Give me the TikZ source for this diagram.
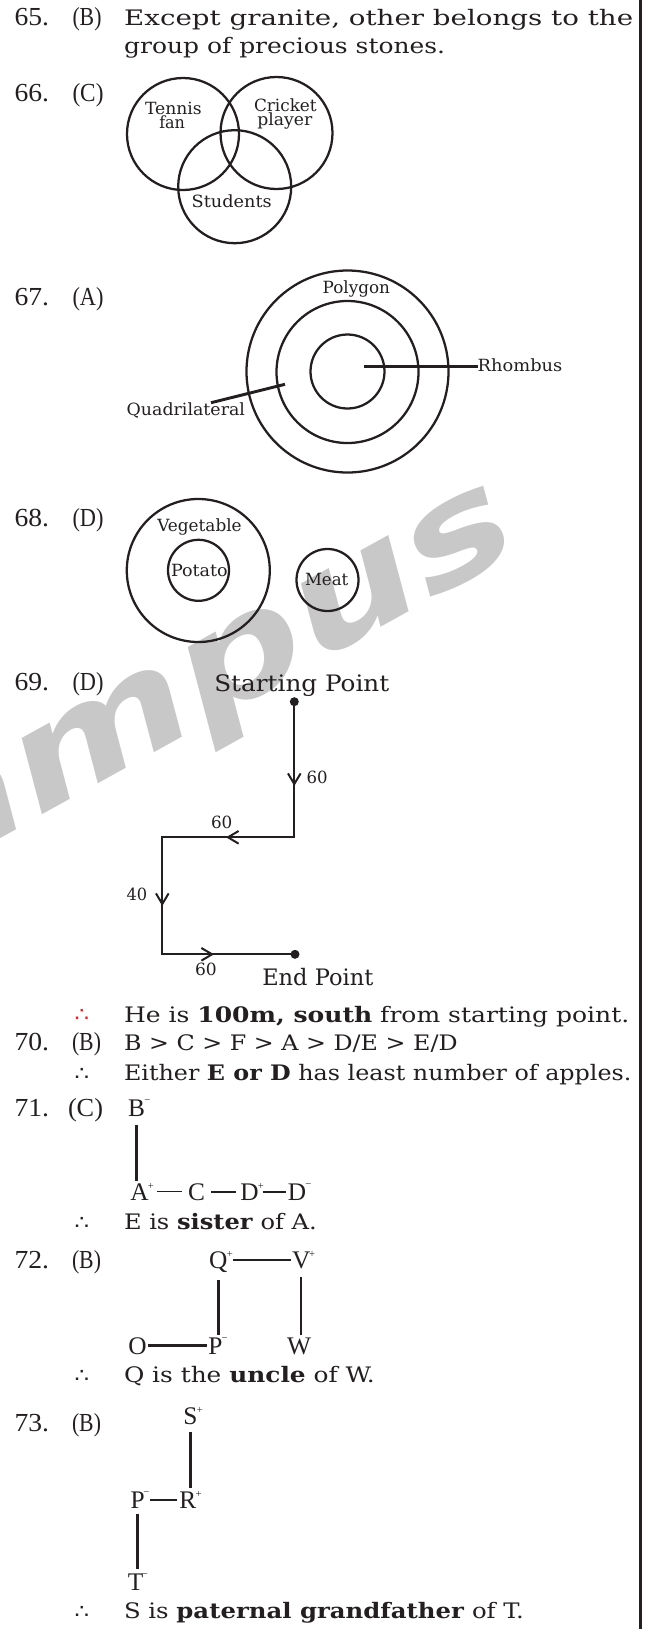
\documentclass[tikz,border=0pt]{standalone}
\usepackage{fontspec}
\usepackage{graphicx}
\setmainfont{DejaVu Serif}
\newfontfamily\numfont{Liberation Serif}
\newfontfamily\symfont{DejaVu Sans}
\usetikzlibrary{arrows.meta}
\definecolor{ink}{RGB}{35,31,32}
\definecolor{wmgray}{RGB}{200,200,200}
\definecolor{thred}{RGB}{237,28,36}
\newlength\pxu
\setlength\pxu{0.75pt}
\newcommand\fitw[2]{\resizebox{#1\pxu}{\height}{#2}}
\newcommand\mainsz{\fontsize{16}{19}\selectfont}
\newcommand\numsz{\numfont\fontsize{19.5}{22}\selectfont}
\newcommand\lblsz{\fontsize{12.6}{15}\selectfont}
\newcommand\bigsz{\fontsize{17}{20}\selectfont}
\newcommand\famsz{\numfont\fontsize{19}{22}\selectfont}
\newcommand\supsz{\numfont\fontsize{8}{8}\selectfont}
\newcommand\thsz{\symfont\fontsize{15}{18}\selectfont}
\tikzset{
  txt/.style={inner sep=0pt, outer sep=0pt, anchor=base west, text=ink},
  ring/.style={circle, draw=ink, line width=1.7pt, inner sep=0pt},
  ln/.style={draw=ink, line width=2.2pt},
  midln/.style={draw=ink, line width=1.9pt},
  thinln/.style={draw=ink, line width=1.2pt},
  pathln/.style={draw=ink, line width=1.5pt},
  barb/.style={pathln, -{Straight Barb[length=8pt, width=9.5pt]}},
  dotn/.style={circle, fill=ink, inner sep=0pt, minimum size=6.75pt},
  letter/.style={inner sep=0pt, outer sep=0pt, anchor=base, text=ink, font=\famsz},
  supn/.style={inner sep=0pt, outer sep=0pt, anchor=north west, text=ink, font=\supsz},
  wm/.style={inner sep=0pt, text=wmgray, rotate=29, xscale=1.3, transform shape,
    font=\symfont\bfseries\itshape\fontsize{105}{105}\selectfont},
}
\begin{document}
\begin{tikzpicture}[x=0.75pt, y=-0.75pt]
\useasboundingbox (0,0) rectangle (645,1629);
% watermark
\node[wm] (wmark) at (216,691) {ampus};
% right frame
\draw[line width=2.2pt, ink] (640.5,0) -- (640.5,1629);

% ---------- 65
\node[txt] (n65) at (14.5,25) {\numsz\fitw{34.5}{65.}};
\node[txt] (k65) at (72.5,25) {\numsz\fitw{29}{(B)}};
\node[txt] (t65a) at (124.2,25) {\mainsz\fitw{509}{Except granite, other belongs to the}};
\node[txt] (t65b) at (124.2,53.3) {\mainsz\fitw{321}{group of precious stones.}};

% ---------- 66
\node[txt] (n66) at (14.5,101) {\numsz\fitw{34.5}{66.}};
\node[txt] (k66) at (72.5,101) {\numsz\fitw{31}{(C)}};
\node[ring, minimum size=84pt] (tennis) at (183,134) {};
\node[ring, minimum size=84pt] (cricket) at (276.5,133) {};
\node[ring, minimum size=84.75pt] (students) at (234.7,186.7) {};
\node[txt] (ltennis) at (145,114.3) {\lblsz\fitw{56.7}{Tennis}};
\node[txt] (lfan) at (159.3,128.3) {\lblsz\fitw{25.7}{fan}};
\node[txt] (lcricket) at (254,111) {\lblsz\fitw{62.7}{Cricket}};
\node[txt] (lplayer) at (257.3,125.7) {\lblsz\fitw{55}{player}};
\node[txt] (lstudents) at (191.7,207.3) {\lblsz\fitw{80}{Students}};

% ---------- 67
\node[txt] (n67) at (14.5,305) {\numsz\fitw{34.5}{67.}};
\node[txt] (k67) at (72.5,305) {\numsz\fitw{31}{(A)}};
\node[ring, minimum size=151.5pt] (polygon) at (347.5,371.5) {};
\node[ring, minimum size=106.5pt] (quadri) at (347.5,372) {};
\node[ring, minimum size=55.5pt] (rhomb) at (347.5,371.5) {};
\node[txt] (lpolygon) at (322.7,293.3) {\lblsz\fitw{67.3}{Polygon}};
\node[txt] (lrhombus) at (477.7,371.7) {\lblsz\fitw{84.6}{Rhombus}};
\node[txt] (lquad) at (126.7,415.7) {\lblsz\fitw{118.3}{Quadrilateral}};
\coordinate (rh0) at (364,366.3);
\draw[ln] (rh0) -- (rh0 -| lrhombus.west);
\coordinate (q0) at (285,384.3);
\coordinate (q1) at (211,402.7);
\draw[ln] (q0) -- (q1);

% ---------- 68
\node[txt] (n68) at (14.5,526.7) {\numsz\fitw{34.5}{68.}};
\node[txt] (k68) at (72.5,526.7) {\numsz\fitw{31}{(D)}};
\node[ring, minimum size=107.25pt] (veg) at (198.3,570.5) {};
\node[ring, minimum size=45.75pt] (potato) at (198.5,570.3) {};
\node[ring, minimum size=46.5pt] (meat) at (327.5,580) {};
\node[txt] (lveg) at (157.3,531) {\lblsz\fitw{84.4}{Vegetable}};
\node[txt] (lpotato) at (171,576) {\lblsz\fitw{56.7}{Potato}};
\node[txt] (lmeat) at (305,585) {\lblsz\fitw{43.3}{Meat}};

% ---------- 69
\node[txt] (n69) at (14.5,690) {\numsz\fitw{34.5}{69.}};
\node[txt] (k69) at (72.5,690) {\numsz\fitw{31}{(D)}};
\node[txt] (lstart) at (214.3,691) {\bigsz\fitw{175}{Starting Point}};
\node[dotn] (sp) at (294.3,701.7) {};
\coordinate (c1) at (294.3,837.3);
\coordinate (c2) at (162.3,837.3);
\coordinate (c3) at (162.3,954.3);
\node[dotn] (ep) at (295,954.3) {};
\draw[pathln] (sp.center) -- (c1) -- (c2) -- (c3) -- (ep.center);
\coordinate (a1s) at (294.3,772); \coordinate (a1t) at (294.3,786);
\coordinate (a2s) at (240,837.3); \coordinate (a2t) at (226,837.3);
\coordinate (a3s) at (162.3,892); \coordinate (a3t) at (162.3,906);
\coordinate (a4s) at (200,954.3); \coordinate (a4t) at (214,954.3);
\draw[barb] (a1s) -- (a1t);
\draw[barb] (a2s) -- (a2t);
\draw[barb] (a3s) -- (a3t);
\draw[barb] (a4s) -- (a4t);
\node[txt] (d1) at (306.7,783.3) {\lblsz\fitw{21}{60}};
\node[txt] (d2) at (211,828.3) {\lblsz\fitw{21.3}{60}};
\node[txt] (d3) at (126.7,900.7) {\lblsz\fitw{20.6}{40}};
\node[txt] (d4) at (195,975) {\lblsz\fitw{21.7}{60}};
\node[txt] (lend) at (262.3,985) {\bigsz\fitw{111}{End Point}};
\node[txt, text=thred] (th69) at (74.5,1021.7) {\thsz\fitw{14.5}{∴}};
\node[txt] (t69) at (124,1022.7) {\mainsz\fitw{505.4}{He is \textbf{100m, south} from starting point.}};

% ---------- 70
\node[txt] (n70) at (14.5,1050) {\numsz\fitw{34.5}{70.}};
\node[txt] (k70) at (72,1050) {\numsz\fitw{29}{(B)}};
\node[txt] (t70) at (124,1050) {\mainsz\fitw{333.6}{B > C > F > A > D/E > E/D}};
\node[txt] (th70) at (74.5,1080) {\thsz\fitw{14.5}{∴}};
\node[txt] (t70b) at (124,1080) {\mainsz\fitw{507.5}{Either \textbf{E or D} has least number of apples.}};

% ---------- 71
\node[txt] (n71) at (14.5,1116.7) {\numsz\fitw{34.5}{71.}};
\node[txt] (k71) at (68,1116.7) {\numsz\fitw{35}{(C)}};
\node[letter] (B71) at (136.5,1116.7) {B};
\node[letter] (A71) at (139.5,1200) {A};
\node[letter] (C71) at (196.5,1200) {C};
\node[letter] (D71) at (249.5,1200) {D};
\node[letter] (E71) at (297,1200) {D};
\node[supn] (sB71) at ([xshift=-0.5pt]B71.north east) {\char"2212};
\node[supn] (sA71) at ([xshift=-0.5pt]A71.north east) {+};
\node[supn] (sD71) at ([xshift=-0.5pt]D71.north east) {+};
\node[supn] (sE71) at ([xshift=-0.5pt]E71.north east) {\char"2212};
\draw[ln, shorten <=6pt, shorten >=2pt] (B71.south) -- (B71.south |- A71.north);
\draw[thinln, shorten <=6pt, shorten >=4.5pt] (A71.east) -- (A71.east -| C71.west);
\draw[thinln, shorten <=4.5pt, shorten >=3pt] (C71.east) -- (C71.east -| D71.west);
\draw[thinln, shorten <=3pt, shorten >=1.5pt] (D71.east) -- (D71.east -| E71.west);
\node[txt] (th71) at (74.5,1229.3) {\thsz\fitw{14.5}{∴}};
\node[txt] (t71) at (124,1229.3) {\mainsz\fitw{192.8}{E is \textbf{sister} of A.}};

% ---------- 72
\node[txt] (n72) at (14.5,1268.3) {\numsz\fitw{34.5}{72.}};
\node[txt] (k72) at (72,1268.3) {\numsz\fitw{29}{(B)}};
\node[letter] (Q72) at (218.3,1268.3) {Q};
\node[letter] (V72) at (301.2,1268.3) {V};
\node[letter] (O72) at (137.5,1354) {O};
\node[letter] (P72) at (215.3,1354) {P};
\node[letter] (W72) at (299.2,1354) {W};
\node[supn] (sQ72) at ([xshift=-0.5pt]Q72.north east) {+};
\node[supn] (sV72) at ([xshift=-1pt]V72.north east) {+};
\node[supn] (sP72) at ([xshift=-0.5pt]P72.north east) {\char"2212};
\draw[midln, shorten <=4pt, shorten >=1pt] (V72.west -| Q72.east) -- (V72.west);
\draw[midln, shorten <=6pt, shorten >=2pt] (Q72.south) -- (Q72.south |- P72.north);
\draw[midln, shorten <=6pt, shorten >=2pt] (V72.south) -- (V72.south |- W72.north);
\draw[midln, shorten <=1pt, shorten >=1pt] (O72.east) -- (O72.east -| P72.west);
\node[txt] (th72) at (74.5,1382.7) {\thsz\fitw{14.5}{∴}};
\node[txt] (t72) at (124,1382.7) {\mainsz\fitw{250.7}{Q is the \textbf{uncle} of W.}};

% ---------- 73
\node[txt] (n73) at (14.5,1431.7) {\numsz\fitw{34.5}{73.}};
\node[txt] (k73) at (72,1431.7) {\numsz\fitw{29}{(B)}};
\node[letter] (S73) at (190.5,1424) {S};
\node[letter] (P73) at (137.7,1508.3) {P};
\node[letter] (R73) at (187.8,1508.3) {R};
\node[letter] (T73) at (135.5,1590) {T};
\node[supn] (sS73) at ([xshift=-0.5pt]S73.north east) {+};
\node[supn] (sP73) at ([xshift=-1pt]P73.north east) {\char"2212};
\node[supn] (sR73) at ([xshift=-0.5pt]R73.north east) {+};
\node[supn] (sT73) at ([xshift=-1pt]T73.north east) {\char"2212};
\draw[ln, shorten <=6pt, shorten >=3pt] (S73.south) -- (S73.south |- R73.north);
\draw[thinln, shorten <=4pt, shorten >=2pt] (P73.east) -- (P73.east -| R73.west);
\draw[ln, shorten <=4pt, shorten >=3pt] (P73.south) -- (P73.south |- T73.north);
\node[txt] (th73) at (74.5,1618.3) {\thsz\fitw{14.5}{∴}};
\node[txt] (t73) at (124,1618.3) {\mainsz\fitw{399.8}{S is \textbf{paternal grandfather} of T.}};
\end{tikzpicture}
\end{document}
